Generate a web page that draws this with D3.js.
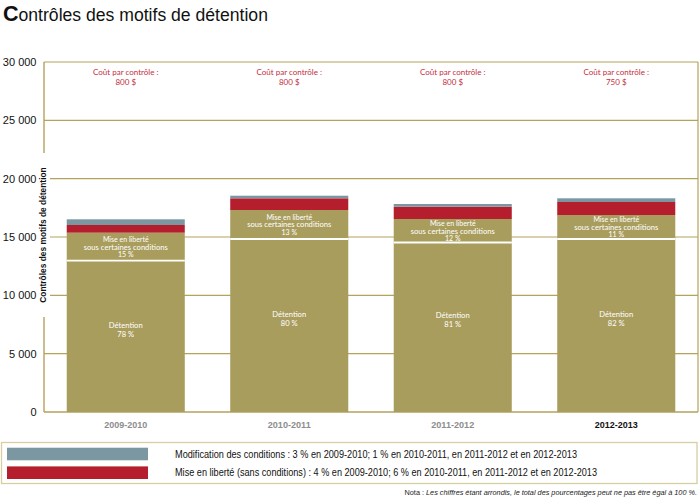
<!DOCTYPE html>
<html><head><meta charset="utf-8">
<script src="https://cdn.jsdelivr.net/npm/d3@7"></script>
<style>
body{margin:0;background:#fff;}
svg{display:block;}
</style></head>
<body>
<svg id="chart" width="700" height="497"></svg>
<script>
const years = ["2009-2010","2010-2011","2011-2012","2012-2013"];
const detention = [12970, 14830, 14530, 14830];
const conditional = [2400, 2484, 2013, 2056];
const release = [659, 1003, 1054, 1114];
const modification = [488, 223, 232, 317];
const detentionPct = ["78 %","80 %","81 %","82 %"];
const conditionalPct = ["15 %","13 %","12 %","11 %"];
const costs = ["800 $","800 $","800 $","750 $"];
const yTicks = [0,5000,10000,15000,20000,25000,30000];
const legendItems = [
  {key:"modification", label:"Modification des conditions : 3 % en 2009-2010; 1 % en 2010-2011, en 2011-2012 et en 2012-2013"},
  {key:"release", label:"Mise en liberté (sans conditions) : 4 % en 2009-2010; 6 % en 2010-2011, en 2011-2012 et en 2012-2013"}
];

const colors = {detention:"#a99d5d", conditional:"#a99d5d", release:"#b51f2d", modification:"#7b98a2"};
const gold = "#b5a25c";
const svg = d3.select("#chart");

const x = d3.scaleBand().domain(years).range([44,698]).paddingInner(0.278).paddingOuter(0.139);
const y = d3.scaleLinear().domain([0,30000]).range([412,62]);

// title
const title = svg.append("text").attr("x",3).attr("y",21).attr("font-family","Liberation Sans, Arial, sans-serif").attr("fill","#111");
title.append("tspan").attr("font-size",21.5).attr("font-weight","bold").text("C");
title.append("tspan").attr("font-size",17.6).text("ontrôles des motifs de détention");

// gridlines
svg.append("g").selectAll("line").data(yTicks.filter(d=>d>0)).join("line")
  .attr("x1",44).attr("x2",698).attr("y1",d=>y(d)).attr("y2",d=>y(d))
  .attr("stroke",gold).attr("stroke-width",1.2);
// axes frame
svg.append("line").attr("x1",44).attr("x2",698).attr("y1",y(0)).attr("y2",y(0)).attr("stroke",gold).attr("stroke-width",1.4);
svg.append("line").attr("x1",44).attr("x2",44).attr("y1",y(30000)).attr("y2",y(0)).attr("stroke",gold).attr("stroke-width",1.4);
svg.append("line").attr("x1",698).attr("x2",698).attr("y1",y(30000)).attr("y2",y(0)).attr("stroke",gold).attr("stroke-width",1.2);

// y tick labels
const fmt = d => d3.format(",")(d).replace(/,/g," ");
svg.append("g").selectAll("text").data(yTicks).join("text")
  .attr("x",36.5).attr("y",d=>y(d)).attr("dy","0.35em").attr("text-anchor","end")
  .attr("font-family","Liberation Sans, Arial, sans-serif").attr("font-size",11).attr("fill","#111")
  .text(fmt);

// y axis title with white background
svg.append("rect").attr("x",37).attr("y",153).attr("width",13).attr("height",164).attr("fill","#fff");
svg.append("text").attr("transform","translate(43.5,235) rotate(-90)")
  .attr("text-anchor","middle").attr("dy","0.35em")
  .attr("font-family","Liberation Sans, Arial, sans-serif").attr("font-size",8.4).attr("font-weight","bold").attr("fill","#111")
  .text("Contrôles des motifs de détention");

// stacked bars
const rows = years.map((yr,i)=>({year:yr, detention:detention[i], conditional:conditional[i], release:release[i], modification:modification[i]}));
const keys = ["detention","conditional","release","modification"];
const stack = d3.stack().keys(keys)(rows);
svg.append("g").selectAll("g").data(stack).join("g").attr("fill",d=>colors[d.key])
  .selectAll("rect").data(d=>d).join("rect")
  .attr("x",d=>x(d.data.year)).attr("width",x.bandwidth())
  .attr("y",d=>y(d[1])).attr("height",d=>y(d[0])-y(d[1]));

// white separator between detention and conditional
svg.append("g").selectAll("line").data(rows).join("line")
  .attr("x1",d=>x(d.year)).attr("x2",d=>x(d.year)+x.bandwidth())
  .attr("y1",d=>y(d.detention)).attr("y2",d=>y(d.detention))
  .attr("stroke","#fff").attr("stroke-width",1.8);

const labFont = "Lato, 'Open Sans', sans-serif";
// conditional labels
const condG = svg.append("g").attr("fill","#fff").attr("font-family",labFont).attr("font-size",7).attr("text-anchor","middle");
rows.forEach((r,i)=>{
  const cy = (y(r.detention) + y(r.detention + r.conditional))/2 + 0.5;
  const cx = x(r.year)+x.bandwidth()/2;
  ["Mise en liberté","sous certaines conditions",conditionalPct[i]].forEach((t,k)=>{
    condG.append("text").attr("x",cx).attr("y",cy+(k-1)*7.5).attr("dy","0.35em")
      .attr("textLength", k===1 ? 84 : null).attr("lengthAdjust","spacingAndGlyphs").text(t);
  });
});
// detention labels
const detG = svg.append("g").attr("fill","#fff").attr("font-family",labFont).attr("font-size",7.6).attr("text-anchor","middle");
rows.forEach((r,i)=>{
  const cy = (y(0)+y(r.detention))/2 - 7;
  const cx = x(r.year)+x.bandwidth()/2;
  ["Détention",detentionPct[i]].forEach((t,k)=>{
    detG.append("text").attr("x",cx).attr("y",cy+(k-0.5)*9).attr("dy","0.35em").text(t);
  });
});

// cost labels
const costG = svg.append("g").attr("fill","#c42d3d").attr("font-family",labFont).attr("font-size",8).attr("text-anchor","middle");
years.forEach((yr,i)=>{
  const cx = x(yr)+x.bandwidth()/2;
  costG.append("text").attr("x",cx).attr("y",71.8).attr("dy","0.35em").text("Coût par contrôle :");
  costG.append("text").attr("x",cx).attr("y",82.5).attr("dy","0.35em").text(costs[i]);
});

// x labels
svg.append("g").selectAll("text").data(years).join("text")
  .attr("x",d=>x(d)+x.bandwidth()/2).attr("y",424.5).attr("dy","0.35em").attr("text-anchor","middle")
  .attr("font-family","Liberation Sans, Arial, sans-serif").attr("font-size",9.4).attr("font-weight","bold")
  .attr("textLength",43).attr("lengthAdjust","spacingAndGlyphs")
  .attr("fill",(d,i)=>i===years.length-1?"#111":"#8d8d8d")
  .text(d=>d);

// legend
svg.append("rect").attr("x",1.5).attr("y",442.5).attr("width",695.5).attr("height",41)
  .attr("fill","#fff").attr("stroke","#d8cea2").attr("stroke-width",1.3);
const legendWidths = [402, 422];
const lg = svg.append("g").selectAll("g").data(legendItems).join("g")
  .attr("transform",(d,i)=>`translate(0,${447.7 + i*18.7})`);
lg.append("rect").attr("x",7).attr("y",0).attr("width",141).attr("height",12.6).attr("fill",d=>colors[d.key]);
lg.append("text").attr("x",175).attr("y",6.3).attr("dy","0.35em")
  .attr("font-family","Liberation Sans, Arial, sans-serif").attr("font-size",10.5).attr("fill","#111")
  .attr("textLength",(d,i)=>legendWidths[i]).attr("lengthAdjust","spacingAndGlyphs")
  .text(d=>d.label);

// note
const note = svg.append("text").attr("x",697).attr("y",492.5).attr("dy","0.35em").attr("text-anchor","end")
  .attr("font-family","Liberation Sans, Arial, sans-serif").attr("font-size",7.3).attr("fill","#222");
note.append("tspan").text("Nota : ");
note.append("tspan").attr("font-style","italic").text("Les chiffres étant arrondis, le total des pourcentages peut ne pas être égal à 100 %.");
</script>
</body></html>
